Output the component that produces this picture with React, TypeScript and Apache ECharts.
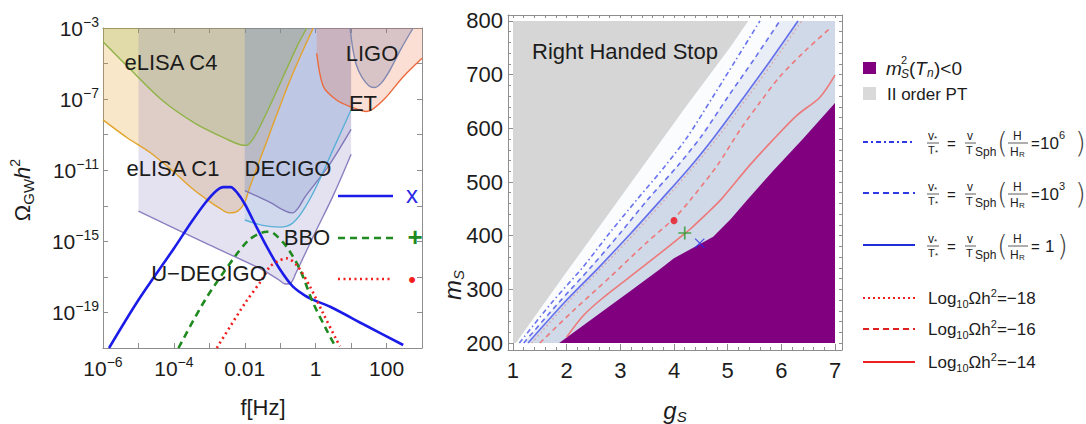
import React, { useEffect, useRef } from 'react';
import * as echarts from 'echarts';

const FONT = '"Liberation Sans", Arial, Helvetica, sans-serif';
const TXT = '#1c1c1c';
const FRAME = '#8e8e8e';

// ---------------- Left panel: log10 f[Hz] vs log10 Omega_GW h^2 ----------------
const freqLabelValues = [-6, -4, -2, 0, 2];
const freqLabels = ['{b|10}{s|−6}', '{b|10}{s|−4}', '{b|0.01}', '{b|1}', '{b|100}'];
const freqTickValues = [-6, -5, -4, -3, -2, -1, 0, 1, 2, 3];
const omegaLabelValues = [-19, -15, -11, -7, -3];
const omegaLabels = ['{b|10}{s|−19}', '{b|10}{s|−15}', '{b|10}{s|−11}', '{b|10}{s|−7}', '{b|10}{s|−3}'];
const omegaTickValues = [-19, -17, -15, -13, -11, -9, -7, -5, -3];

const eLisaC1 = [[-6, -8.17], [-5.3, -9.2], [-4.67, -10.0], [-4.0, -11.1], [-3.5, -12.0], [-3.0, -12.75], [-2.7, -13.15], [-2.45, -13.4], [-2.2, -13.3], [-2.0, -12.8], [-1.85, -11.9], [-1.29, -8.9], [-0.72, -5.92], [-0.07, -3.0]];
const eLisaC4 = [[-6, -3.77], [-5.3, -5.18], [-4.34, -7.05], [-3.4, -8.36], [-2.46, -9.3], [-2.1, -9.58], [-1.95, -9.6], [-1.75, -9.2], [-1.48, -8.17], [-1.0, -6.11], [-0.53, -4.05], [-0.25, -3.0]];
const uDecigo = [[-5, -13.3], [-3, -15.2], [-1.5, -16.6], [-1.05, -17.15], [-0.85, -17.4], [-0.7, -17.35], [-0.55, -16.75], [0, -14.45], [0.5, -12.4], [1.0, -10.1]];
const decigo = [[-2, -12.15], [-1.3, -12.8], [-0.85, -13.3], [-0.65, -13.4], [-0.5, -13.15], [-0.3, -12.5], [0.35, -10.8], [1.0, -8.7]];
const bbo = [[-2, -13.8], [-1.5, -14.1], [-1.0, -14.2], [-0.7, -14.05], [-0.4, -13.4], [0, -12.0], [0.5, -9.8], [1.0, -7.6]];
const et = [[0.03, -4.42], [0.22, -6.3], [0.59, -7.05], [0.97, -7.42], [1.44, -7.7], [1.91, -7.05], [2.47, -5.74], [3.0, -4.7]];
const ligo = [[0.97, -3.0], [1.05, -4.2], [1.15, -5.1], [1.3, -5.75], [1.5, -6.25], [1.65, -6.35], [1.85, -6.1], [2.1, -5.35], [2.4, -4.2], [2.75, -3.0]];

const signalX = [[-5.83, -21], [-5, -18.3], [-4, -15.4], [-3.5, -13.9], [-3.1, -12.8], [-2.8, -12.15], [-2.6, -11.95], [-2.4, -11.95], [-2.2, -12.3], [-2.0, -12.9], [-1.77, -13.8], [-1.38, -15.3], [-1.0, -16.6], [-0.64, -17.55], [-0.3, -18.05], [0.0, -18.35], [0.41, -18.68], [1.4, -19.72], [2.47, -20.83]];
const signalPlus = [[-3.87, -21], [-3.12, -18.3], [-2.28, -15.86], [-1.9, -14.95], [-1.63, -14.6], [-1.38, -14.46], [-1.2, -14.53], [-0.82, -15.3], [-0.44, -16.6], [-0.07, -18.47], [0.31, -19.99], [0.55, -20.9]];
const signalDot = [[-2.79, -21], [-1.99, -18.47], [-1.52, -17.17], [-1.29, -16.42], [-1.05, -16.1], [-0.82, -15.96], [-0.53, -16.35], [-0.16, -17.55], [0.21, -19.05], [0.59, -20.55], [0.69, -20.9]];

// ---------------- Right panel: g_S vs m_S ----------------
const gMajor = [1, 2, 3, 4, 5, 6, 7];
const gMinor = [1.2, 1.4, 1.6, 1.8, 2.2, 2.4, 2.6, 2.8, 3.2, 3.4, 3.6, 3.8, 4.2, 4.4, 4.6, 4.8, 5.2, 5.4, 5.6, 5.8, 6.2, 6.4, 6.6, 6.8];
const mMajor = [200, 300, 400, 500, 600, 700, 800];
const mMinor = [220, 240, 260, 280, 320, 340, 360, 380, 420, 440, 460, 480, 520, 540, 560, 580, 620, 640, 660, 680, 720, 740, 760, 780];

const dataRegion = [[1, 200], [7, 200], [7, 800], [1, 800]];
const secondOrderEdge = [[1.05, 200], [2.0, 333], [2.96, 466], [4.2, 638], [5.05, 752], [5.38, 800]];
const sphaleron1e6 = [[1.12, 200], [1.72, 275], [2.3, 341], [2.8, 405], [3.3, 466], [3.82, 528], [4.25, 584], [4.72, 658], [5.15, 727], [5.6, 800]];
const sphaleron1e3 = [[1.2, 200], [1.85, 275], [2.45, 341], [3.0, 405], [3.5, 466], [4.05, 528], [4.5, 584], [5.0, 658], [5.48, 727], [5.97, 800]];
const sphaleron1 = [[1.28, 200], [2.0, 280], [2.6, 341], [3.2, 405], [3.75, 466], [4.3, 528], [4.75, 584], [5.3, 658], [5.8, 727], [6.31, 800]];
const omegaM18 = [[1.35, 200], [2.06, 280], [2.66, 341], [3.27, 405], [3.82, 466], [4.36, 528], [4.82, 584], [5.37, 658], [5.87, 727], [6.38, 800]];
const omegaM16 = [[1.5, 200], [2.1, 258], [2.81, 323], [3.5, 388], [4.0, 432], [4.3, 466], [4.8, 530], [5.23, 597], [5.6, 648], [5.97, 696], [6.45, 745], [6.94, 789]];
const omegaM14 = [[2.0, 211], [2.3, 250], [2.65, 282], [3.2, 325], [3.75, 368], [4.15, 400], [4.3, 412], [4.6, 440], [4.9, 470], [5.4, 530], [5.84, 578], [6.3, 625], [6.72, 658], [7.0, 699]];
const tachyonicEdge = [[1.86, 200], [2.6, 254], [3.2, 298], [3.73, 337], [4.0, 358], [4.4, 380], [4.73, 398], [5.05, 430], [5.36, 466], [5.84, 520], [6.4, 580], [7.0, 647], [7.0, 200]];
const benchDot = [[4.0, 428]];
const benchPlus = [[4.2, 405]];
const benchX = [[4.48, 386]];

// ---------------- layout constants ----------------
const G_MIN = 1 - 5 / 53.67;
const G_MAX = 7 + 7 / 53.67;
const M_MIN = 200 - 7 / 0.5367;
const M_MAX = 800 + 6 / 0.5367;

const tickRich = {
  b: { fontSize: 21, lineHeight: 26, fontFamily: FONT, color: TXT },
  s: { fontSize: 14, lineHeight: 14, verticalAlign: 'top', fontFamily: FONT, color: TXT },
};

function frameAxis(extra: any) {
  return {
    type: 'value',
    axisLine: { show: true, onZero: false, lineStyle: { color: FRAME, width: 1 } },
    splitLine: { show: false },
    ...extra,
  };
}

function detector(data: number[][], line: string, fill: string, width = 1.4) {
  return {
    type: 'line', data, xAxisIndex: 0, yAxisIndex: 0, symbol: 'none', showSymbol: false,
    smooth: 0.3, silent: true, z: 2,
    lineStyle: { color: line, width },
    areaStyle: { color: fill, origin: 'end', opacity: 1 },
  };
}

function signal(data: number[][], color: string, type: any) {
  return {
    type: 'line', data, xAxisIndex: 0, yAxisIndex: 0, symbol: 'none', showSymbol: false,
    smooth: 0.3, silent: true, z: 5,
    lineStyle: { color, width: 2.6, type },
  };
}

function region(pts: number[][], fill: string, z: number) {
  return {
    type: 'custom', xAxisIndex: 2, yAxisIndex: 2, data: pts, silent: true, z,
    encode: { x: 0, y: 1 },
    renderItem: (params: any, api: any) => {
      if (params.dataIndex !== 0) return null;
      return { type: 'polygon', shape: { points: pts.map((p) => api.coord(p)) }, style: { fill } };
    },
  };
}

function rline(data: number[][], color: string, type: any, width = 1.6) {
  return {
    type: 'line', data, xAxisIndex: 2, yAxisIndex: 2, symbol: 'none', showSymbol: false,
    smooth: 0.3, silent: true, z: 4,
    lineStyle: { color, width, type },
  };
}

function t(x: number, y: number, text: string, size: number, extra: any = {}) {
  return {
    type: 'text', x, y, silent: true, z: 100,
    style: { text, fontSize: size, fontFamily: FONT, fill: TXT, align: 'left', verticalAlign: 'middle', ...extra },
  };
}

function hline(x1: number, x2: number, y: number, stroke: string, lineWidth: number, lineDash?: number[]) {
  return { type: 'line', silent: true, z: 100, shape: { x1, y1: y, x2, y2: y }, style: { stroke, lineWidth, lineDash } };
}

function formula(y0: number, exp: string | null) {
  const paren = { fontWeight: 'lighter', fill: '#444', fontFamily: '"DejaVu Sans", sans-serif' };
  const els: any[] = [
    t(928, y0 - 6, 'v', 12), t(934, y0 - 4, '*', 8),
    hline(927, 939, y0 + 1, '#333', 0.8),
    t(928, y0 + 8, 'T', 11), t(935, y0 + 10, '*', 8),
    t(947, y0 + 1, '=', 15),
    t(967, y0 - 6, 'v', 12),
    hline(965, 976, y0 + 1, '#333', 0.8),
    t(966, y0 + 8, 'T', 11),
    t(975, y0 + 10, 'Sph', 12),
    t(997, y0 + 1, '(', 28, paren),
    t(1013, y0 - 6, 'H', 12),
    hline(1008, 1028, y0 + 1, '#333', 0.8),
    t(1010, y0 + 10, 'H', 12), t(1019, y0 + 12, 'R', 8),
    t(1031, y0 + 1, '=', 15),
  ];
  if (exp) {
    els.push(t(1040, y0 + 1, '10', 17), t(1059, y0 - 7, exp, 11), t(1075, y0 + 1, ')', 28, paren));
  } else {
    els.push(t(1045, y0 + 1, '1', 17), t(1057, y0 + 1, ')', 28, paren));
  }
  return els;
}

function logText(y0: number, value: string) {
  return {
    type: 'text', x: 928, y: y0, silent: true, z: 100,
    style: {
      text: `{n|Log}{d|10}{n|Ωh}{u|2}{n|=${value}}`,
      fontFamily: FONT, fill: TXT, align: 'left', verticalAlign: 'middle',
      rich: {
        n: { fontSize: 17, lineHeight: 22, fontFamily: FONT, fill: TXT },
        d: { fontSize: 11, lineHeight: 12, verticalAlign: 'bottom', fontFamily: FONT, fill: TXT },
        u: { fontSize: 11, lineHeight: 12, verticalAlign: 'top', fontFamily: FONT, fill: TXT },
      },
    },
  };
}

function buildOption(): any {
  const graphic: any[] = [
    // left-panel labels
    t(171, 62, 'eLISA C4', 22, { align: 'center' }),
    t(173, 168, 'eLISA C1', 22, { align: 'center' }),
    t(288, 168, 'DECIGO', 22, { align: 'center' }),
    t(372, 53, 'LIGO', 22, { align: 'center' }),
    t(363, 103, 'ET', 22, { align: 'center' }),
    t(307, 237, 'BBO', 22, { align: 'center' }),
    t(209, 273, 'U−DECIGO', 22, { align: 'center' }),
    // left-panel key
    hline(338, 393, 196, '#1c1ce8', 2.6),
    t(412, 194, 'x', 24, { align: 'center', fill: '#2a2ae6' }),
    hline(338, 393, 238, '#1f8a1f', 2.6, [7, 5]),
    t(415, 237, '+', 26, { align: 'center', fill: '#1f8a1f', fontWeight: 'bold' }),
    hline(338, 393, 279, '#f21d1d', 2.6, [2, 3.5]),
    t(412, 279, '•', 22, { align: 'center', fill: '#f21d1d' }),
    // axis titles
    t(263, 407, 'f[Hz]', 22, { align: 'center' }),
    {
      type: 'text', x: 22, y: 190, rotation: Math.PI / 2, silent: true, z: 100,
      style: {
        text: '{o|Ω}{d|GW}{i|h}{u|2}', align: 'center', verticalAlign: 'middle', fontFamily: FONT, fill: TXT,
        rich: {
          o: { fontSize: 22, lineHeight: 28, fontFamily: FONT, fill: TXT },
          d: { fontSize: 15, lineHeight: 16, verticalAlign: 'bottom', fontFamily: FONT, fill: TXT },
          i: { fontSize: 22, lineHeight: 28, fontStyle: 'italic', fontFamily: FONT, fill: TXT },
          u: { fontSize: 14, lineHeight: 14, verticalAlign: 'top', fontFamily: FONT, fill: TXT },
        },
      },
    },
    {
      type: 'text', x: 675, y: 410, silent: true, z: 100,
      style: {
        text: '{i|g}{d|S}', align: 'center', verticalAlign: 'middle', fontFamily: FONT, fill: TXT,
        rich: {
          i: { fontSize: 24, lineHeight: 28, fontStyle: 'italic', fontFamily: FONT, fill: TXT },
          d: { fontSize: 15, lineHeight: 16, verticalAlign: 'bottom', fontStyle: 'italic', fontFamily: FONT, fill: TXT },
        },
      },
    },
    {
      type: 'text', x: 452, y: 285, rotation: Math.PI / 2, silent: true, z: 100,
      style: {
        text: '{i|m}{d|S}', align: 'center', verticalAlign: 'middle', fontFamily: FONT, fill: TXT,
        rich: {
          i: { fontSize: 24, lineHeight: 28, fontStyle: 'italic', fontFamily: FONT, fill: TXT },
          d: { fontSize: 15, lineHeight: 16, verticalAlign: 'bottom', fontStyle: 'italic', fontFamily: FONT, fill: TXT },
        },
      },
    },
    t(532, 51, 'Right Handed Stop', 22),
    // right legend
    { type: 'rect', silent: true, z: 100, shape: { x: 863, y: 62, width: 13, height: 12 }, style: { fill: '#800080' } },
    t(886, 68, 'm', 19, { fontStyle: 'italic' }),
    t(901, 60, '2', 11),
    t(901, 74, 'S', 12, { fontStyle: 'italic' }),
    t(909, 68, '(', 19),
    t(915, 68, 'T', 19, { fontStyle: 'italic' }),
    t(927, 73, 'n', 12, { fontStyle: 'italic' }),
    t(934, 68, ')<0', 19),
    { type: 'rect', silent: true, z: 100, shape: { x: 863, y: 87, width: 13, height: 13 }, style: { fill: '#d9d9d9' } },
    t(887, 94, 'II order PT', 17),
    hline(863, 915, 142, '#2e3ae2', 2, [5, 3, 2, 3]),
    hline(863, 915, 193, '#2e3ae2', 2, [6, 4]),
    hline(863, 915, 245, '#1f2fd8', 2),
    hline(863, 915, 298, '#ee2020', 2, [2, 3]),
    hline(863, 915, 329, '#dd2020', 2, [6, 4]),
    hline(863, 915, 362, '#ee2020', 2),
    ...formula(142, '6'),
    ...formula(193, '3'),
    ...formula(245, null),
    logText(298, '−18'),
    logText(329, '−16'),
    logText(362, '−14'),
  ];

  return {
    animation: false,
    backgroundColor: '#ffffff',
    textStyle: { fontFamily: FONT },
    grid: [
      { left: 103, top: 28, width: 319, height: 320, containLabel: false },
      { left: 508, top: 15, width: 334, height: 335, containLabel: false },
    ],
    xAxis: [
      frameAxis({
        gridIndex: 0, position: 'bottom', min: -6, max: 3,
        axisTick: { show: true, inside: true, length: 5, customValues: freqTickValues, lineStyle: { color: FRAME } },
        axisLabel: {
          show: true, customValues: freqLabelValues, margin: 7, color: TXT, fontFamily: FONT, rich: tickRich,
          formatter: (v: number) => freqLabels[freqLabelValues.indexOf(Math.round(v))] ?? '',
        },
      }),
      frameAxis({
        gridIndex: 0, position: 'top', min: -6, max: 3,
        axisTick: { show: true, inside: true, length: 5, customValues: freqTickValues, lineStyle: { color: FRAME } },
        axisLabel: { show: false },
      }),
      frameAxis({
        gridIndex: 1, position: 'bottom', min: G_MIN, max: G_MAX,
        axisTick: { show: true, inside: true, length: 6, customValues: gMajor, lineStyle: { color: FRAME } },
        axisLabel: {
          show: true, customValues: gMajor, margin: 9, fontSize: 22, color: TXT, fontFamily: FONT,
          formatter: (v: number) => String(Math.round(v)),
        },
      }),
      frameAxis({
        gridIndex: 1, position: 'bottom', min: G_MIN, max: G_MAX, axisLine: { show: false },
        axisTick: { show: true, inside: true, length: 3, customValues: gMinor, lineStyle: { color: FRAME } },
        axisLabel: { show: false },
      }),
      frameAxis({
        gridIndex: 1, position: 'top', min: G_MIN, max: G_MAX,
        axisTick: { show: true, inside: true, length: 3, customValues: [...gMajor, ...gMinor], lineStyle: { color: FRAME } },
        axisLabel: { show: false },
      }),
    ],
    yAxis: [
      frameAxis({
        gridIndex: 0, position: 'left', min: -21, max: -3,
        axisTick: { show: true, inside: true, length: 5, customValues: omegaTickValues, lineStyle: { color: FRAME } },
        axisLabel: {
          show: true, customValues: omegaLabelValues, margin: 4, color: TXT, fontFamily: FONT, rich: tickRich,
          formatter: (v: number) => omegaLabels[omegaLabelValues.indexOf(Math.round(v))] ?? '',
        },
      }),
      frameAxis({
        gridIndex: 0, position: 'right', min: -21, max: -3,
        axisTick: { show: true, inside: true, length: 5, customValues: omegaTickValues, lineStyle: { color: FRAME } },
        axisLabel: { show: false },
      }),
      frameAxis({
        gridIndex: 1, position: 'left', min: M_MIN, max: M_MAX,
        axisTick: { show: true, inside: true, length: 6, customValues: mMajor, lineStyle: { color: FRAME } },
        axisLabel: {
          show: true, customValues: mMajor, margin: 5, fontSize: 22, color: TXT, fontFamily: FONT,
          formatter: (v: number) => String(Math.round(v)),
        },
      }),
      frameAxis({
        gridIndex: 1, position: 'left', min: M_MIN, max: M_MAX, axisLine: { show: false },
        axisTick: { show: true, inside: true, length: 3, customValues: mMinor, lineStyle: { color: FRAME } },
        axisLabel: { show: false },
      }),
      frameAxis({
        gridIndex: 1, position: 'right', min: M_MIN, max: M_MAX,
        axisTick: { show: true, inside: true, length: 3, customValues: [...mMajor, ...mMinor], lineStyle: { color: FRAME } },
        axisLabel: { show: false },
      }),
    ],
    series: [
      // left panel: sensitivity regions
      detector(eLisaC1, '#e3a32c', 'rgba(226,160,40,0.25)'),
      detector(eLisaC4, '#8fb347', 'rgba(140,176,50,0.22)'),
      detector(uDecigo, '#8a80c0', 'rgba(130,120,190,0.22)'),
      detector(decigo, '#7f78b8', 'rgba(110,118,185,0.18)'),
      detector(bbo, '#5ab0d6', 'rgba(90,165,215,0.14)'),
      detector(et, '#ec6a3c', 'rgba(235,110,60,0.22)'),
      detector(ligo, '#8288b0', 'rgba(110,115,160,0.25)'),
      // left panel: benchmark spectra
      signal(signalX, '#1c1ce8', 'solid'),
      signal(signalPlus, '#1f8a1f', [7, 5]),
      signal(signalDot, '#f21d1d', [2, 3.5]),
      // right panel regions
      region(dataRegion, '#cfd9e8', 1),
      region([...sphaleron1e3, ...[...sphaleron1].reverse()], '#e9eef6', 1),
      region([...secondOrderEdge, ...[...sphaleron1e3].reverse()], '#fbfcfe', 1),
      region([[1, 200], ...secondOrderEdge, [1, 800]], '#d6d6d6', 2),
      region(tachyonicEdge, '#800080', 2),
      // right panel contours
      rline(sphaleron1e6, 'rgba(80,90,235,0.85)', [5, 3, 1.5, 3]),
      rline(sphaleron1e3, 'rgba(80,90,235,0.85)', [5, 4]),
      rline(sphaleron1, 'rgba(80,90,235,0.85)', 'solid'),
      rline(omegaM18, 'rgba(240,110,110,0.6)', [1.5, 3], 1.2),
      rline(omegaM16, 'rgba(240,110,110,0.9)', [5, 4]),
      rline(omegaM14, 'rgba(240,110,110,0.9)', 'solid'),
      {
        type: 'scatter', xAxisIndex: 2, yAxisIndex: 2, data: benchDot, symbol: 'circle', symbolSize: 7,
        itemStyle: { color: '#e8141e' }, silent: true, z: 6,
      },
      {
        type: 'scatter', xAxisIndex: 2, yAxisIndex: 2, data: benchPlus,
        symbol: 'path://M-1,-0.13L1,-0.13L1,0.13L-1,0.13Z M-0.13,-1L0.13,-1L0.13,1L-0.13,1Z', symbolSize: 13,
        itemStyle: { color: '#2a9a2a' }, silent: true, z: 6,
      },
      {
        type: 'scatter', xAxisIndex: 2, yAxisIndex: 2, data: benchX,
        symbol: 'path://M-1,-0.09L1,-0.09L1,0.09L-1,0.09Z M-0.09,-1L0.09,-1L0.09,1L-0.09,1Z', symbolSize: 13, symbolRotate: 45,
        itemStyle: { color: '#2a2ae6' }, silent: true, z: 6,
      },
    ],
    graphic,
  };
}

export default function App() {
  const ref = useRef<HTMLDivElement>(null);
  useEffect(() => {
    const chart = echarts.init(ref.current!, null, { renderer: 'svg' });
    chart.setOption(buildOption());
    return () => chart.dispose();
  }, []);
  return (
    <div
      ref={ref}
      style={{ position: 'absolute', left: 0, top: 0, width: 1086, height: 424, background: '#ffffff' }}
    />
  );
}
